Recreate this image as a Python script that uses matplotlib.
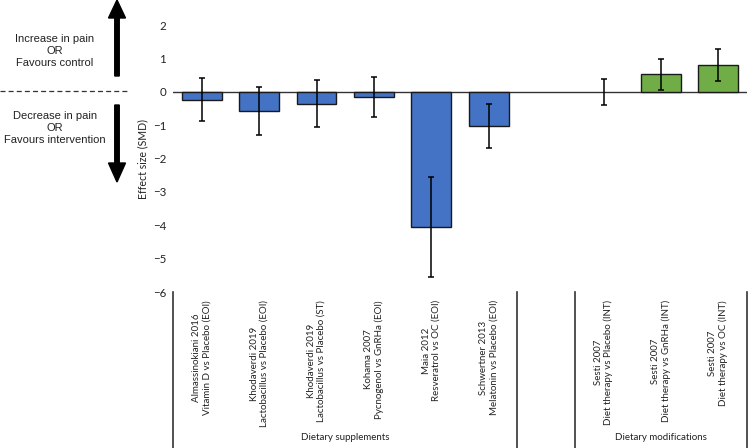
import numpy as np
import matplotlib
matplotlib.use("Agg")
import matplotlib.pyplot as plt
import matplotlib.transforms as mtransforms
from matplotlib.patches import FancyArrow

plt.rcParams['font.family'] = ['Lato', 'DejaVu Sans']

# data (empty string = blank spacer slot)
studies = ['Almassinokiani 2016\nVitamin D vs Placebo (EOI)',
           'Khodaverdi 2019\nLactobacillus vs Placebo (EOI)',
           'Khodaverdi 2019\nLactobacillus vs Placebo (ST)',
           'Kohama 2007\nPycnogenol vs GnRHa (EOI)',
           'Maia 2012\nResveratrol vs OC (EOI)',
           'Schwertner 2013\nMelatonin vs Placebo (EOI)',
           '',
           'Sesti 2007\nDiet therapy vs Placebo (INT)',
           'Sesti 2007\nDiet therapy vs GnRHa (INT)',
           'Sesti 2007\nDiet therapy vs OC (INT)']
smd = [-0.25, -0.59, -0.36, -0.17, -4.06, -1.03, np.nan, 0.0, 0.52, 0.80]
ci_low = [-0.87, -1.29, -1.05, -0.75, -5.54, -1.69, np.nan, -0.39, 0.06, 0.32]
ci_high = [0.40, 0.13, 0.35, 0.45, -2.55, -0.36, np.nan, 0.38, 0.99, 1.28]
groups = ['Dietary supplements', 'Dietary modifications']
group_of = [0, 0, 0, 0, 0, 0, -1, 1, 1, 1]
group_colors = ['#4472C4', '#70AD47']

W, H = 749, 448
fig = plt.figure(figsize=(W / 100, H / 100), dpi=100)
ax = fig.add_axes([173 / W, 1 - 292 / H, (747 - 173) / W, (292 - 25) / H])

x = np.arange(len(studies))
smd = np.array(smd)
lo = smd - np.array(ci_low)
hi = np.array(ci_high) - smd

# only slots with a non-zero effect get a visible bar
has_bar = ~np.isnan(smd) & (smd != 0)
cols = [group_colors[group_of[i]] for i in x[has_bar]]
ax.bar(x[has_bar], smd[has_bar], width=0.69, color=cols, edgecolor='#1a1a1a', linewidth=1.0, zorder=2)
ax.errorbar(x, smd, yerr=[lo, hi], fmt='none', ecolor='black', elinewidth=1.1,
            capsize=2.5, capthick=1.1, zorder=3)

ax.set_xlim(-0.5, len(studies) - 0.5)
ax.set_ylim(-6, 2)
ax.set_yticks(range(-6, 3))
ax.tick_params(axis='y', length=0, labelsize=8.3, pad=5, labelcolor='#222222')
ax.set_xticks([])
for s in ax.spines.values():
    s.set_visible(False)
ax.axhline(0, color='#333333', lw=1.0, zorder=1)
ax.set_ylabel('Effect size (SMD)', fontsize=7.6, labelpad=3, color='#222222')

# category labels and group separators under the plot
tr = mtransforms.blended_transform_factory(ax.transData, ax.transAxes)
for xi, lab in zip(x, studies):
    if lab:
        ax.text(xi, -0.03, lab, transform=tr, rotation=90, ha='center', va='top',
                multialignment='center', fontsize=7.0, color='#222222', linespacing=1.15)
for xs in [-0.5, 5.5, 6.5, 9.5]:
    ax.plot([xs, xs], [0, -0.59], transform=tr, color='#333333', lw=1.2, clip_on=False)
ax.text(2.5, -0.545, groups[0], transform=tr, ha='center', va='center', fontsize=7.0, color='#222222')
ax.text(8.0, -0.545, groups[1], transform=tr, ha='center', va='center', fontsize=7.0, color='#222222')

# left-hand annotation: arrows, dashed zero line and captions (figure pixels)
ident = mtransforms.IdentityTransform()
fig.patches.append(FancyArrow(117, H - 76, 0, 76, width=4.5, head_width=17, head_length=18,
                              length_includes_head=True, color='black', transform=ident, figure=fig))
fig.patches.append(FancyArrow(117, H - 105, 0, -77, width=4.5, head_width=17, head_length=19,
                              length_includes_head=True, color='black', transform=ident, figure=fig))
fig.lines.append(plt.Line2D([0, 130 / W], [1 - 91 / H, 1 - 91 / H], transform=fig.transFigure,
                            color='#333333', lw=0.9, ls=(0, (4, 2.5))))
fig.text(55 / W, 1 - 51 / H, 'Increase in pain\nOR\nFavours control', ha='center', va='center',
         fontsize=8, family=['Liberation Sans'], linespacing=1.3, color='#222222')
fig.text(55 / W, 1 - 128 / H, 'Decrease in pain\nOR\nFavours intervention', ha='center', va='center',
         fontsize=8, family=['Liberation Sans'], linespacing=1.3, color='#222222')

fig.savefig('out.png', dpi=100)
